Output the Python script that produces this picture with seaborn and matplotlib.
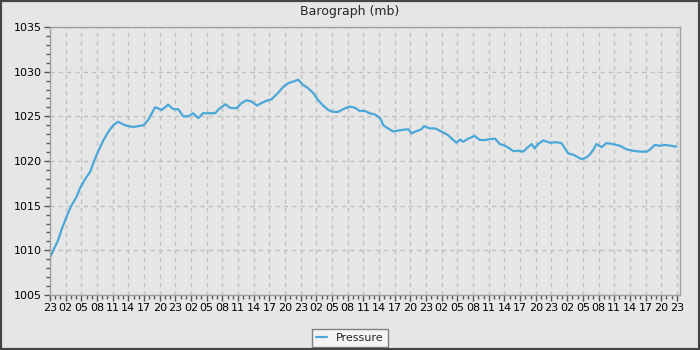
import matplotlib
matplotlib.use("Agg")
import matplotlib.pyplot as plt
import seaborn as sns
import pandas as pd
from matplotlib.ticker import MultipleLocator, FixedLocator
from matplotlib.patches import Rectangle

# Hours since first tick (23:00) and pressure readings (mb)
hours = [0.0, 1.6, 2.2, 3.2, 4.0, 5.1, 5.7, 6.7, 7.7, 8.5, 9.2, 10.2, 11.2, 12.1, 13.0,
         14.35, 15.9, 17.9, 18.8, 20.1, 20.7, 21.4, 22.6, 23.6, 24.55, 25.5, 26.5, 27.4,
         28.4, 29.3, 30.6, 31.6, 32.5, 33.6, 34.45, 35.7, 36.7, 37.65, 38.6, 39.6, 40.5,
         41.5, 42.4, 43.7, 44.65, 45.6, 46.6, 47.5, 48.5, 49.4, 50.4, 51.35, 52.3, 53.3,
         54.2, 55.2, 56.1, 57.4, 58.4, 59.3, 60.3, 61.2, 62.2, 63.2, 63.8, 64.7, 65.7,
         66.65, 67.6, 68.6, 69.2, 70.2, 71.1, 71.6, 72.7, 73.7, 74.6, 75.6, 76.2, 77.2,
         77.8, 78.5, 79.1, 80.05, 81.3, 82.3, 83.25, 84.2, 85.2, 86.1, 87.1, 88.0, 88.7,
         89.6, 90.6, 91.2, 92.2, 92.8, 93.45, 94.4, 95.7, 97.0, 97.9, 98.6, 99.2, 100.2,
         101.1, 101.8, 102.7, 103.3, 104.0, 104.6, 105.6, 106.5, 107.8, 109.1, 110.4,
         111.6, 112.9, 114.2, 114.8, 115.8, 116.7, 117.7, 119.0, 119.9]
pressure = [1009.2, 1011.2, 1012.3, 1013.8, 1014.9, 1016.0, 1016.9, 1017.95, 1018.8, 1020.1,
            1021.05, 1022.3, 1023.3, 1024.0, 1024.4, 1024.0, 1023.8, 1024.0, 1024.6, 1026.0,
            1025.9, 1025.7, 1026.3, 1025.8, 1025.8, 1025.0, 1025.0, 1025.35, 1024.8, 1025.35,
            1025.35, 1025.35, 1025.9, 1026.35, 1025.95, 1025.9, 1026.5, 1026.8, 1026.65,
            1026.2, 1026.5, 1026.75, 1026.9, 1027.65, 1028.3, 1028.7, 1028.9, 1029.1, 1028.5,
            1028.15, 1027.6, 1026.8, 1026.2, 1025.7, 1025.5, 1025.5, 1025.8, 1026.1, 1025.95,
            1025.6, 1025.6, 1025.35, 1025.2, 1024.8, 1024.0, 1023.65, 1023.3, 1023.4, 1023.5,
            1023.55, 1023.1, 1023.35, 1023.55, 1023.9, 1023.65, 1023.65, 1023.4, 1023.1,
            1022.9, 1022.35, 1022.05, 1022.4, 1022.15, 1022.5, 1022.8, 1022.35, 1022.35,
            1022.45, 1022.5, 1021.9, 1021.7, 1021.4, 1021.1, 1021.15, 1021.05, 1021.4, 1021.9,
            1021.4, 1021.9, 1022.3, 1022.05, 1022.1, 1022.0, 1021.4, 1020.85, 1020.7, 1020.4,
            1020.2, 1020.4, 1020.7, 1021.25, 1021.9, 1021.55, 1022.0, 1021.9, 1021.7, 1021.3,
            1021.15, 1021.05, 1021.05, 1021.25, 1021.8, 1021.7, 1021.8, 1021.7, 1021.6]

tick_hours = list(range(0, 121, 3))
tick_labels = ["23", "02", "05", "08", "11", "14", "17", "20"] * 5 + ["23"]
y_ticks = [1005, 1010, 1015, 1020, 1025, 1030, 1035]
series_name = "Pressure"
title = "Barograph (mb)"

df = pd.DataFrame({"hour": hours, "value": pressure, "series": series_name})

BG = "#e6e6e6"
sns.set_theme(style="white", rc={"axes.facecolor": BG, "figure.facecolor": BG})
plt.rcParams["font.family"] = ["DejaVu Sans"]

fig = plt.figure(figsize=(7, 3.5), dpi=100)
ax = fig.add_axes([50 / 700, 1 - 295 / 350, 630 / 700, 268 / 350])

sns.lineplot(data=df, x="hour", y="value", hue="series", palette=["#4aa8d8"],
             linewidth=1.6, ax=ax, legend=True)

ax.set_xlim(0, 120.6)
ax.set_ylim(1005, 1035)
ax.xaxis.set_major_locator(FixedLocator(tick_hours))
ax.set_xticklabels(tick_labels)
ax.xaxis.set_minor_locator(MultipleLocator(1))
ax.set_yticks(y_ticks)
ax.yaxis.set_minor_locator(MultipleLocator(1))
ax.set_xlabel("")
ax.set_ylabel("")

ax.tick_params(axis="both", which="major", direction="out", length=4, width=1,
               color="#555555", labelsize=8, labelcolor="black", pad=2, bottom=True, left=True)
ax.tick_params(axis="both", which="minor", direction="out", length=3, width=1,
               color="#555555", bottom=True, left=True)

ax.grid(True, which="major", color="#c0c0c0", linestyle=(0, (3, 3)), linewidth=1)
for s in ax.spines.values():
    s.set_color("#a0a0a0")
    s.set_linewidth(1)

fig.text(0.5, 1 - 12 / 350, title, ha="center", va="center", fontsize=9)

leg = ax.legend(loc="lower center", bbox_to_anchor=(0.5, 3 / 350), bbox_transform=fig.transFigure,
                frameon=True, fancybox=False, fontsize=8, handlelength=1.0,
                borderpad=0.35, handletextpad=0.8, borderaxespad=0)
leg.get_frame().set_facecolor("#f4f4f4")
leg.get_frame().set_edgecolor("#808080")
leg.get_frame().set_linewidth(1)
leg.get_frame().set_alpha(1)

fig.patches.append(Rectangle((0, 0), 1, 1, transform=fig.transFigure, fill=False,
                             edgecolor="#444444", linewidth=3, zorder=10))

fig.savefig("out.png", dpi=100, facecolor=BG)
